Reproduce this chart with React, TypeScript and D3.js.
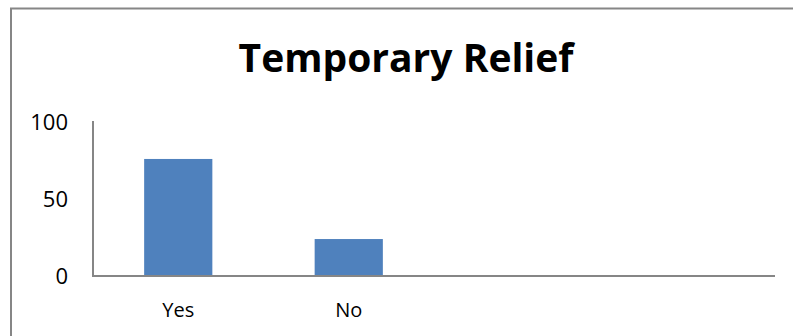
import React from "react";
import * as d3 from "d3";

const categories = ["Yes", "No", "", " "];
const values = [76, 24, null, null];
const yTicks = [0, 50, 100];
const title = "Temporary Relief";

const W = 793;
const H = 336;
const plot = { left: 93, right: 775, top: 122, bottom: 276 };
const FONT = "'Open Sans', Lato, sans-serif";

export default function App() {
  const x = d3
    .scaleBand<string>()
    .domain(categories)
    .range([plot.left, plot.right])
    .paddingInner(0.6)
    .paddingOuter(0.3);
  const y = d3.scaleLinear().domain([0, 100]).range([plot.bottom, plot.top]);

  return (
    <div style={{ position: "fixed", left: 0, top: 0 }}>
      <svg width={W} height={H} style={{ display: "block", background: "#fff" }}>
        {/* chart frame */}
        <rect x={11} y={8.5} width={W + 20} height={H + 20} fill="#fff" stroke="#868686" strokeWidth={2} />
        <text
          x={406}
          y={72}
          textAnchor="middle"
          fontFamily={FONT}
          fontWeight={700}
          fontSize={39}
          fill="#000"
        >
          {title}
        </text>
        {categories.map((c, i) =>
          values[i] == null ? null : (
            <rect
              key={c}
              x={x(c)}
              y={y(values[i] as number)}
              width={x.bandwidth()}
              height={y(0) - y(values[i] as number)}
              fill="#4F81BD"
            />
          )
        )}
        {/* axes */}
        <line x1={plot.left} x2={plot.left} y1={plot.top - 1} y2={plot.bottom + 1} stroke="#868686" strokeWidth={2} />
        <line x1={plot.left} x2={plot.right} y1={plot.bottom} y2={plot.bottom} stroke="#868686" strokeWidth={2} />
        {yTicks.map((t) => (
          <text
            key={t}
            x={68}
            y={y(t) + 8}
            textAnchor="end"
            fontFamily={FONT}
            fontSize={22}
            fill="#000"
          >
            {t}
          </text>
        ))}
        {categories.map((c) => (
          <text
            key={"l" + c}
            x={(x(c) as number) + x.bandwidth() / 2}
            y={317}
            textAnchor="middle"
            fontFamily={FONT}
            fontSize={20}
            fill="#000"
          >
            {c}
          </text>
        ))}
      </svg>
    </div>
  );
}
